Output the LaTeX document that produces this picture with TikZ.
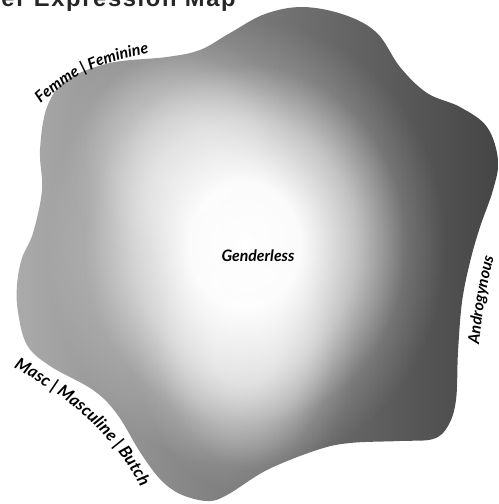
\documentclass[tikz,border=0pt]{standalone}
\usepackage{fontspec}
\setmainfont{Liberation Sans}
\newfontfamily\titlefont[LetterSpace=7]{Liberation Sans}
\newfontfamily\hand{Lato}
\usetikzlibrary{decorations.text,fadings}
\definecolor{blobleft}{HTML}{AEAEAE}
\definecolor{blobright}{HTML}{454545}
\pgfdeclareradialshading{glowsh}{\pgfpointorigin}{rgb(0bp)=(1,1,1); rgb(7bp)=(0.97,0.97,0.97); rgb(14bp)=(0.6,0.6,0.6); rgb(20bp)=(0.15,0.15,0.15); rgb(25bp)=(0,0,0); rgb(50bp)=(0,0,0)}
\pgfdeclarefading{glowfade}{\pgfuseshading{glowsh}}
\def\blobpath{plot[smooth cycle, tension=0.6] coordinates {
(303,7) (345,15) (377,33) (400,67) (427,93) (460,107) (487,127) (498,160)
(493,190) (480,227) (470,262) (462,302) (458,352) (456,400) (448,426)
(433,439) (400,441) (350,443) (317,450) (267,470) (227,495) (207,501)
(180,494) (160,479) (140,452) (117,414) (93,390) (50,366) (27,345)
(18,312) (17,285) (22,258) (33,233) (42,190) (40,150) (47,107) (67,80)
(110,63) (167,57) (200,50) (230,33) (265,14)}}
\tikzset{
  curvedlabel/.style={decorate, decoration={text along path, text align=center,
    text format delimiters={[}{]}}},
}
\newcommand{\handtext}{\hand\bfseries\itshape\fontsize{9}{11}\selectfont}
\newcommand{\handbig}{\hand\bfseries\itshape\fontsize{9.6}{11}\selectfont}
\begin{document}
\begin{tikzpicture}[x=0.02cm, y=-0.02cm]
\useasboundingbox (0,0) rectangle (499,504);
\clip (0,0) rectangle (499,504);
\begin{scope}
  \clip \blobpath;
  \shade[left color=blobleft, right color=blobright] (0,0) rectangle (499,504);
  \fill[white, path fading=glowfade] (245,245) ellipse [x radius=200, y radius=225];
  \fill[white, opacity=0.55, path fading=glowfade] (245,345) ellipse [x radius=110, y radius=150];
  \fill[white, opacity=0.4, path fading=glowfade] (180,150) ellipse [x radius=120, y radius=120];
\end{scope}
\node[anchor=base east, font=\titlefont\bfseries\fontsize{13.5}{15}\selectfont, text=black!85, inner sep=0pt]
  (title) at (236,6) {Gender Expression Map};
\node[font=\handtext, inner sep=0pt] (genderless) at (258,256) {Genderless};
\path[curvedlabel, decoration={text={[\handtext]Femme | Feminine}}]
  (34,110) .. controls (62,82) and (97,60) .. (158,52);
\path[curvedlabel, decoration={text={[\handbig]Masc | Masculine | Butch}}]
  (4,362) .. controls (50,388) and (108,420) .. (146,497);
\path[curvedlabel, decoration={text={[\handtext]Androgynous}}]
  (478,356) .. controls (481,320) and (486,285) .. (497,246);
\end{tikzpicture}
\end{document}
